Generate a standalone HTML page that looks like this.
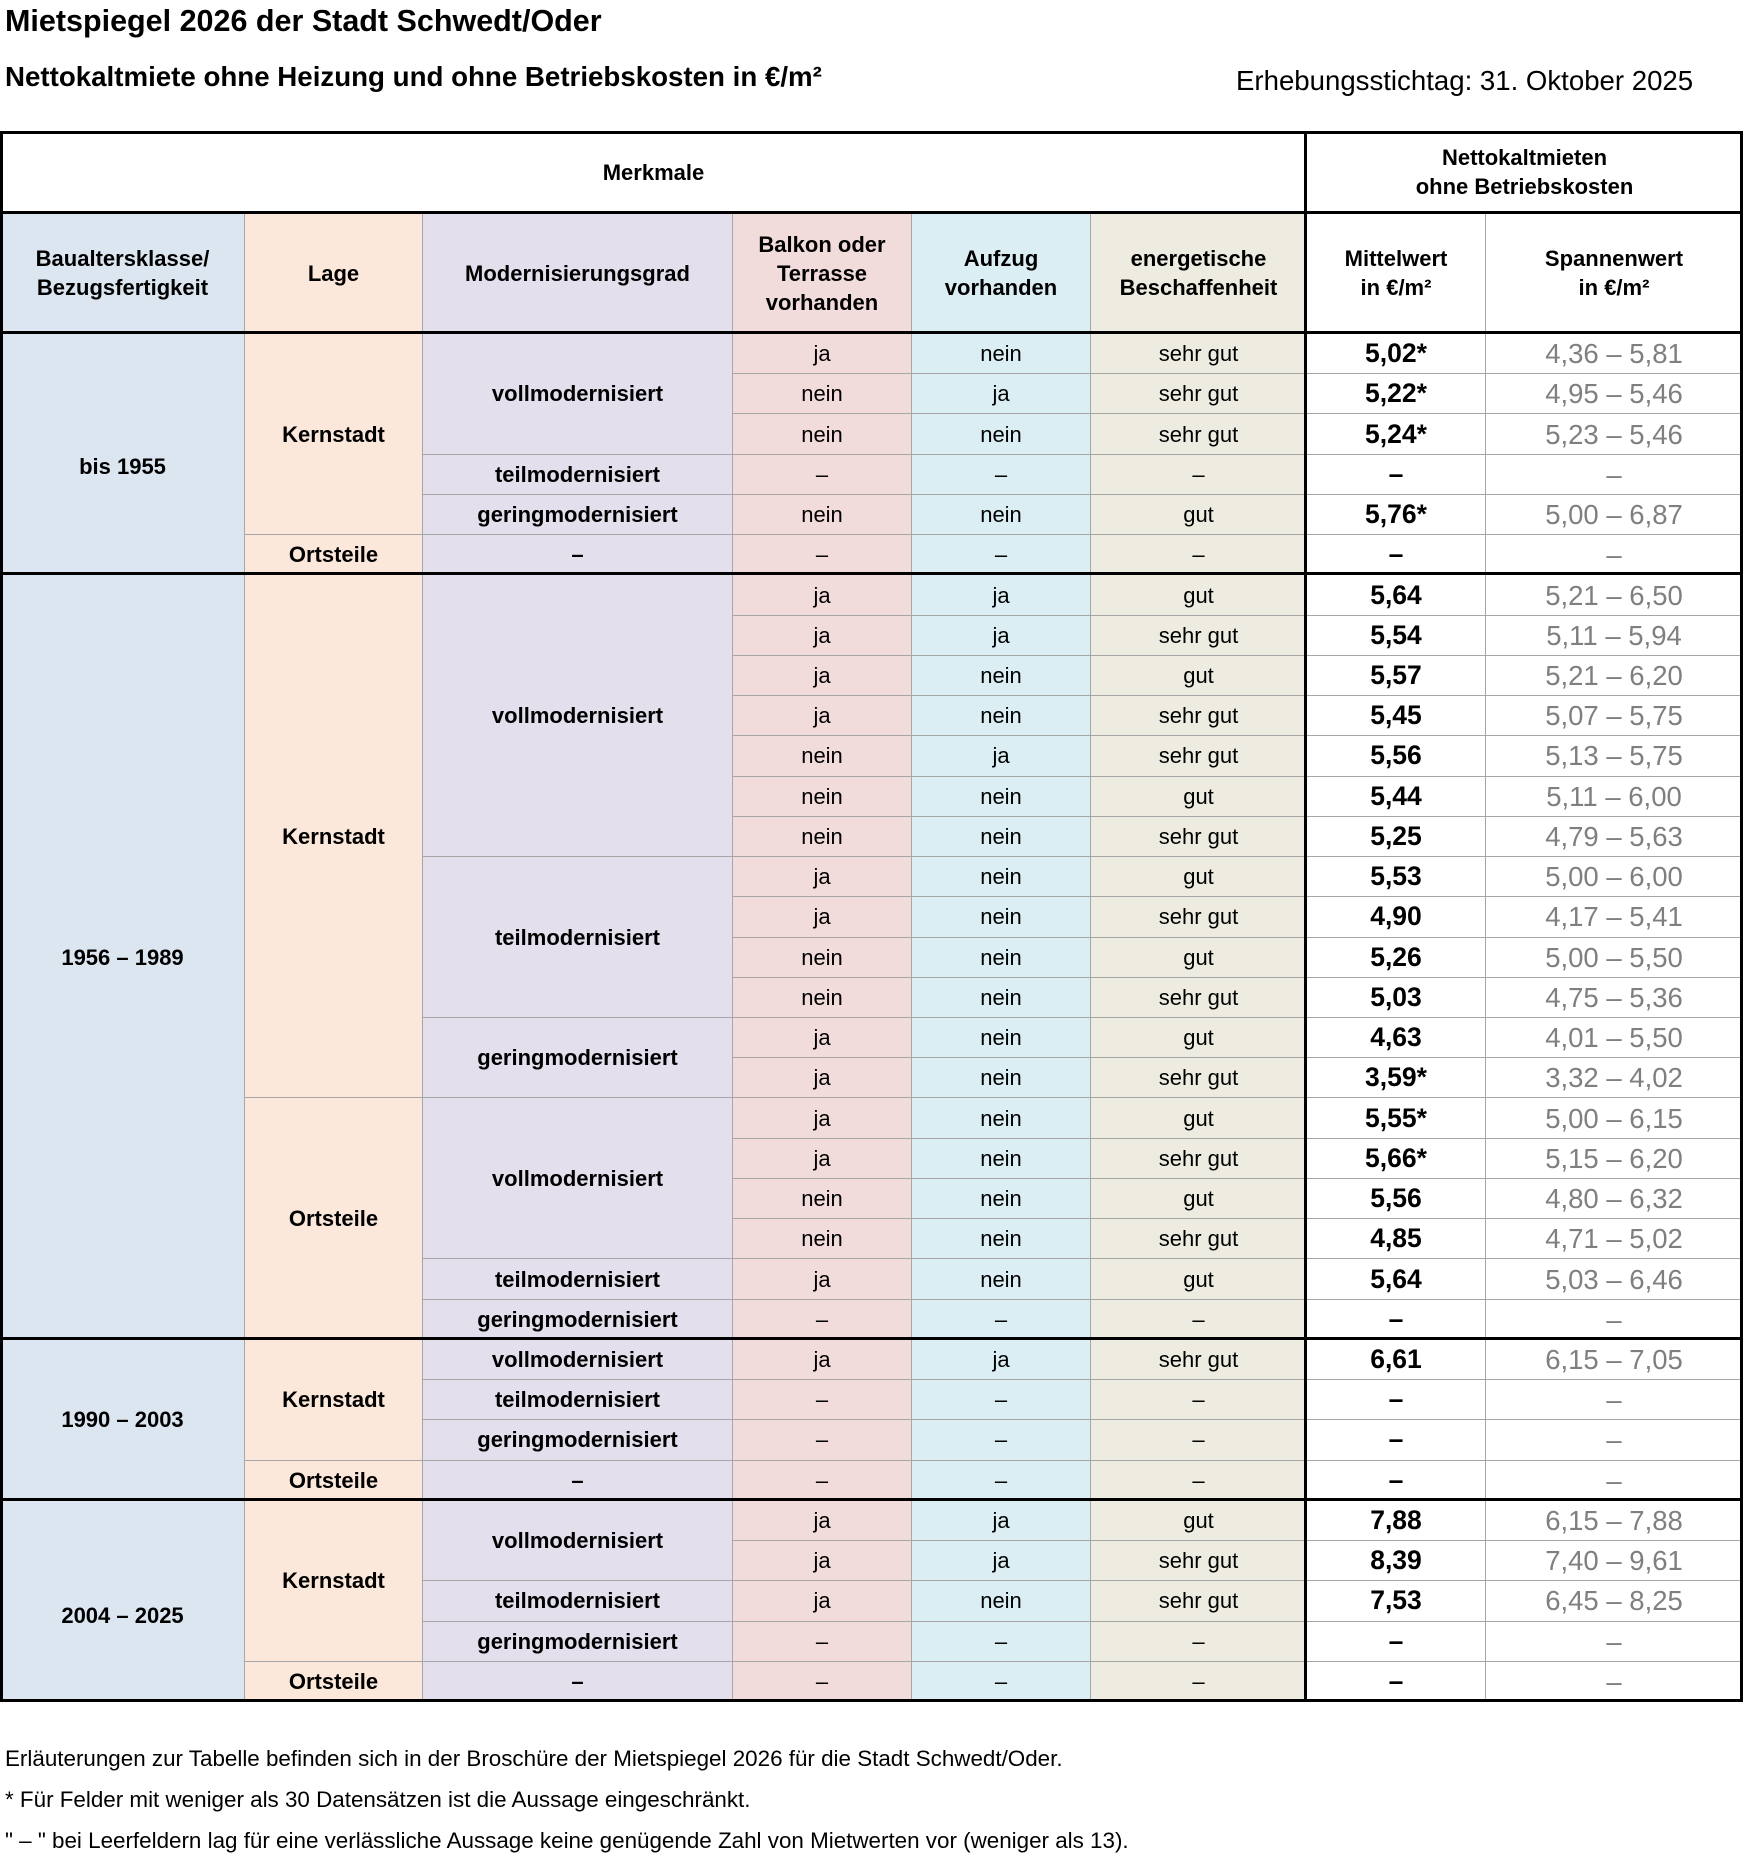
<!DOCTYPE html>
<html><head><meta charset="utf-8">
<style>
html,body{margin:0;padding:0;background:#fff;}
body{width:1743px;height:1866px;position:relative;overflow:hidden;font-family:"Liberation Sans",Arial,sans-serif;color:#000;}
.abs{position:absolute;white-space:nowrap;}
#g{position:absolute;left:1px;top:132px;width:1740px;height:1569px;display:grid;
grid-template-columns:243px 177px 309px 178px 178px 215px 178px 256px;
grid-template-rows:80px 120px repeat(34,1fr);gap:1px;background:#a6a6a6;}
#g>div{display:flex;align-items:center;justify-content:center;text-align:center;font-size:22px;line-height:29px;}
.w{background:#fff;}
.a{background:#dce6f0;font-weight:bold;}
.l{background:#fce8da;font-weight:bold;}
.m{background:#e4dfec;font-weight:bold;}
.p{background:#f2dcdb;}
.c{background:#daeef3;}
.e{background:#eeece1;}
.h{font-weight:bold;}
.v{background:#fff;font-weight:bold;font-size:26.5px !important;}
.r{background:#fff;color:#7f7f7f;font-size:27.5px !important;}
.k{position:absolute;background:#000;}
</style></head><body>
<div class="abs" style="left:5px;top:4px;font-size:30.5px;font-weight:bold;">Mietspiegel 2026 der Stadt Schwedt/Oder</div>
<div class="abs" style="left:5px;top:61px;font-size:27.7px;font-weight:bold;">Nettokaltmiete ohne Heizung und ohne Betriebskosten in €/m²</div>
<div class="abs" style="left:1236px;top:65px;font-size:27.6px;">Erhebungsstichtag: 31. Oktober 2025</div>

<div id="g">
<div class="w h" style="grid-column:1/span 6">Merkmale</div>
<div class="w h" style="grid-column:7/span 2">Nettokaltmieten<br>ohne Betriebskosten</div>
<div class="a">Baualtersklasse/<br>Bezugsfertigkeit</div>
<div class="l">Lage</div>
<div class="m">Modernisierungsgrad</div>
<div class="p h">Balkon oder<br>Terrasse<br>vorhanden</div>
<div class="c h">Aufzug<br>vorhanden</div>
<div class="e h">energetische<br>Beschaffenheit</div>
<div class="w h">Mittelwert<br>in €/m²</div>
<div class="w h">Spannenwert<br>in €/m²</div>

<!-- group 1 -->
<div class="a" style="grid-row:span 6;padding-top:24px">bis 1955</div>
<div class="l" style="grid-row:span 5">Kernstadt</div>
<div class="m" style="grid-row:span 3">vollmodernisiert</div>
<div class="p">ja</div><div class="c">nein</div><div class="e">sehr gut</div><div class="v">5,02*</div><div class="r">4,36 – 5,81</div>
<div class="p">nein</div><div class="c">ja</div><div class="e">sehr gut</div><div class="v">5,22*</div><div class="r">4,95 – 5,46</div>
<div class="p">nein</div><div class="c">nein</div><div class="e">sehr gut</div><div class="v">5,24*</div><div class="r">5,23 – 5,46</div>
<div class="m">teilmodernisiert</div>
<div class="p">–</div><div class="c">–</div><div class="e">–</div><div class="v">–</div><div class="r">–</div>
<div class="m">geringmodernisiert</div>
<div class="p">nein</div><div class="c">nein</div><div class="e">gut</div><div class="v">5,76*</div><div class="r">5,00 – 6,87</div>
<div class="l">Ortsteile</div><div class="m">–</div>
<div class="p">–</div><div class="c">–</div><div class="e">–</div><div class="v">–</div><div class="r">–</div>

<!-- group 2 -->
<div class="a" style="grid-row:span 19">1956 – 1989</div>
<div class="l" style="grid-row:span 13">Kernstadt</div>
<div class="m" style="grid-row:span 7">vollmodernisiert</div>
<div class="p">ja</div><div class="c">ja</div><div class="e">gut</div><div class="v">5,64</div><div class="r">5,21 – 6,50</div>
<div class="p">ja</div><div class="c">ja</div><div class="e">sehr gut</div><div class="v">5,54</div><div class="r">5,11 – 5,94</div>
<div class="p">ja</div><div class="c">nein</div><div class="e">gut</div><div class="v">5,57</div><div class="r">5,21 – 6,20</div>
<div class="p">ja</div><div class="c">nein</div><div class="e">sehr gut</div><div class="v">5,45</div><div class="r">5,07 – 5,75</div>
<div class="p">nein</div><div class="c">ja</div><div class="e">sehr gut</div><div class="v">5,56</div><div class="r">5,13 – 5,75</div>
<div class="p">nein</div><div class="c">nein</div><div class="e">gut</div><div class="v">5,44</div><div class="r">5,11 – 6,00</div>
<div class="p">nein</div><div class="c">nein</div><div class="e">sehr gut</div><div class="v">5,25</div><div class="r">4,79 – 5,63</div>
<div class="m" style="grid-row:span 4">teilmodernisiert</div>
<div class="p">ja</div><div class="c">nein</div><div class="e">gut</div><div class="v">5,53</div><div class="r">5,00 – 6,00</div>
<div class="p">ja</div><div class="c">nein</div><div class="e">sehr gut</div><div class="v">4,90</div><div class="r">4,17 – 5,41</div>
<div class="p">nein</div><div class="c">nein</div><div class="e">gut</div><div class="v">5,26</div><div class="r">5,00 – 5,50</div>
<div class="p">nein</div><div class="c">nein</div><div class="e">sehr gut</div><div class="v">5,03</div><div class="r">4,75 – 5,36</div>
<div class="m" style="grid-row:span 2">geringmodernisiert</div>
<div class="p">ja</div><div class="c">nein</div><div class="e">gut</div><div class="v">4,63</div><div class="r">4,01 – 5,50</div>
<div class="p">ja</div><div class="c">nein</div><div class="e">sehr gut</div><div class="v">3,59*</div><div class="r">3,32 – 4,02</div>
<div class="l" style="grid-row:span 6">Ortsteile</div>
<div class="m" style="grid-row:span 4">vollmodernisiert</div>
<div class="p">ja</div><div class="c">nein</div><div class="e">gut</div><div class="v">5,55*</div><div class="r">5,00 – 6,15</div>
<div class="p">ja</div><div class="c">nein</div><div class="e">sehr gut</div><div class="v">5,66*</div><div class="r">5,15 – 6,20</div>
<div class="p">nein</div><div class="c">nein</div><div class="e">gut</div><div class="v">5,56</div><div class="r">4,80 – 6,32</div>
<div class="p">nein</div><div class="c">nein</div><div class="e">sehr gut</div><div class="v">4,85</div><div class="r">4,71 – 5,02</div>
<div class="m">teilmodernisiert</div>
<div class="p">ja</div><div class="c">nein</div><div class="e">gut</div><div class="v">5,64</div><div class="r">5,03 – 6,46</div>
<div class="m">geringmodernisiert</div>
<div class="p">–</div><div class="c">–</div><div class="e">–</div><div class="v">–</div><div class="r">–</div>

<!-- group 3 -->
<div class="a" style="grid-row:span 4">1990 – 2003</div>
<div class="l" style="grid-row:span 3">Kernstadt</div>
<div class="m">vollmodernisiert</div>
<div class="p">ja</div><div class="c">ja</div><div class="e">sehr gut</div><div class="v">6,61</div><div class="r">6,15 – 7,05</div>
<div class="m">teilmodernisiert</div>
<div class="p">–</div><div class="c">–</div><div class="e">–</div><div class="v">–</div><div class="r">–</div>
<div class="m">geringmodernisiert</div>
<div class="p">–</div><div class="c">–</div><div class="e">–</div><div class="v">–</div><div class="r">–</div>
<div class="l">Ortsteile</div><div class="m">–</div>
<div class="p">–</div><div class="c">–</div><div class="e">–</div><div class="v">–</div><div class="r">–</div>

<!-- group 4 -->
<div class="a" style="grid-row:span 5;padding-top:30px">2004 – 2025</div>
<div class="l" style="grid-row:span 4">Kernstadt</div>
<div class="m" style="grid-row:span 2">vollmodernisiert</div>
<div class="p">ja</div><div class="c">ja</div><div class="e">gut</div><div class="v">7,88</div><div class="r">6,15 – 7,88</div>
<div class="p">ja</div><div class="c">ja</div><div class="e">sehr gut</div><div class="v">8,39</div><div class="r">7,40 – 9,61</div>
<div class="m">teilmodernisiert</div>
<div class="p">ja</div><div class="c">nein</div><div class="e">sehr gut</div><div class="v">7,53</div><div class="r">6,45 – 8,25</div>
<div class="m">geringmodernisiert</div>
<div class="p">–</div><div class="c">–</div><div class="e">–</div><div class="v">–</div><div class="r">–</div>
<div class="l">Ortsteile</div><div class="m">–</div>
<div class="p">–</div><div class="c">–</div><div class="e">–</div><div class="v">–</div><div class="r">–</div>
</div>

<!-- thick lines -->
<div class="k" style="left:0;top:131px;width:1743px;height:3px"></div>
<div class="k" style="left:0;top:1699px;width:1743px;height:3px"></div>
<div class="k" style="left:0;top:131px;width:3px;height:1571px"></div>
<div class="k" style="left:1740px;top:131px;width:3px;height:1571px"></div>
<div class="k" style="left:1304px;top:131px;width:3px;height:1571px"></div>
<div class="k" style="left:0;top:211px;width:1743px;height:3px"></div>
<div class="k" style="left:0;top:331px;width:1743px;height:3px"></div>
<div class="k" style="left:0;top:572px;width:1743px;height:3px"></div>
<div class="k" style="left:0;top:1337px;width:1743px;height:3px"></div>
<div class="k" style="left:0;top:1498px;width:1743px;height:3px"></div>

<div class="abs" style="left:5px;top:1746px;font-size:22.4px;">Erläuterungen zur Tabelle befinden sich in der Broschüre der Mietspiegel 2026 für die Stadt Schwedt/Oder.</div>
<div class="abs" style="left:5px;top:1787px;font-size:22.4px;">* Für Felder mit weniger als 30 Datensätzen ist die Aussage eingeschränkt.</div>
<div class="abs" style="left:5px;top:1828px;font-size:22.4px;">" – " bei Leerfeldern lag für eine verlässliche Aussage keine genügende Zahl von Mietwerten vor (weniger als 13).</div>
</body></html>
